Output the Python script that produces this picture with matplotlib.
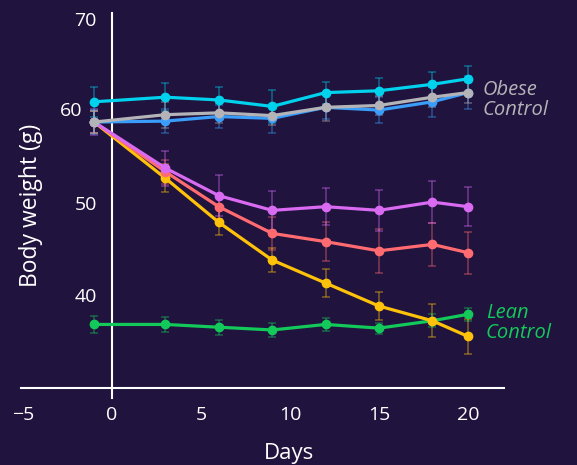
import matplotlib
matplotlib.use("Agg")
import matplotlib.pyplot as plt

days = [-1, 3, 6, 9, 12, 15, 18, 20]

obese_cyan = [61.0, 61.5, 61.2, 60.5, 62.0, 62.2, 62.9, 63.5]
obese_cyan_err = [1.6, 1.5, 1.4, 1.8, 1.2, 1.4, 1.3, 1.4]
obese_blue = [58.8, 58.9, 59.4, 59.2, 60.4, 60.1, 61.0, 62.0]
obese_blue_err = [1.3, 1.3, 1.3, 1.6, 1.3, 1.4, 1.6, 1.8]
obese_gray = [58.8, 59.6, 59.8, 59.5, 60.4, 60.6, 61.5, 62.0]
obese_gray_err = [1.2, 1.4, 1.1, 1.0, 1.5, 1.0, 1.1, 1.1]
magenta = [58.8, 53.8, 50.8, 49.2, 49.6, 49.2, 50.1, 49.6]
magenta_err = [1.4, 1.9, 2.2, 2.1, 2.0, 2.2, 2.3, 2.1]
salmon = [58.8, 53.4, 49.6, 46.7, 45.8, 44.8, 45.5, 44.6]
salmon_err = [1.2, 1.3, 1.3, 1.8, 2.1, 2.4, 2.3, 2.3]
yellow = [58.8, 52.7, 47.9, 43.8, 41.3, 38.8, 37.2, 35.5]
yellow_err = [1.2, 1.5, 1.4, 1.3, 1.5, 1.5, 1.8, 1.9]
lean = [36.8, 36.8, 36.5, 36.2, 36.8, 36.4, 37.2, 37.9]
lean_err = [0.9, 0.8, 0.8, 0.8, 0.7, 0.6, 0.7, 0.7]

xticks = [-5, 0, 5, 10, 15, 20]
yticks = [40, 50, 60, 70]

BG = "#20133d"
FONT = "Open Sans"

fig = plt.figure(figsize=(5.77, 4.65), dpi=100, facecolor=BG)
ax = fig.add_axes([0.0367, 0.144, 0.836, 0.827], facecolor=BG)

series = [
    (lean, lean_err, "#12c95a"),
    (yellow, yellow_err, "#ffc20a"),
    (salmon, salmon_err, "#ff6b70"),
    (magenta, magenta_err, "#d96af2"),
    (obese_cyan, obese_cyan_err, "#00d2ee"),
    (obese_blue, obese_blue_err, "#3a9dfa"),
    (obese_gray, obese_gray_err, "#b4b4b8"),
]
for vals, err, col in series:
    ax.errorbar(days, vals, yerr=err, fmt="none", ecolor=col, alpha=0.45,
                elinewidth=1.1, capsize=3, capthick=1.1, zorder=2)
    ax.plot(days, vals, color=col, lw=2.3, marker="o", ms=6, zorder=3)

ax.set_xlim(-5.1, 22.0)
ax.set_ylim(28.8, 70.6)
ax.spines["top"].set_visible(False)
ax.spines["right"].set_visible(False)
ax.spines["left"].set_position(("data", 0))
ax.spines["bottom"].set_position(("data", 29.9))
ax.spines["bottom"].set_bounds(-5.1, 22.0)
for s in ("left", "bottom"):
    ax.spines[s].set_color("white")
    ax.spines[s].set_linewidth(1.5)
ax.set_xticks(xticks)
ax.set_yticks(yticks)
# the "60" label sits further left in the reference; drawn separately below
ax.set_yticklabels(["" if v == 60 else str(v) for v in yticks])
ax.set_xticklabels([str(v).replace("-", "\u2212") for v in xticks])
ax.tick_params(axis="y", length=0, pad=11, labelsize=14, labelcolor="white")
ax.tick_params(axis="x", length=0, pad=13, labelsize=14, labelcolor="white")
for lab in ax.get_xticklabels() + ax.get_yticklabels():
    lab.set_fontfamily(FONT)
ax.annotate("60", xy=(0, 60), xycoords="data", xytext=(-21.5, 0),
            textcoords="offset points", ha="right", va="center",
            color="white", fontsize=14, family=FONT)

ax.text(20.8, 61.2, "Obese\nControl", color="#b4b4b8", fontsize=14.5, style="italic",
        family=FONT, va="center", ha="left", linespacing=1.0)
ax.text(21.0, 37.0, "Lean\nControl", color="#12c95a", fontsize=14.5, style="italic",
        family=FONT, va="center", ha="left", linespacing=1.0)

fig.text(31 / 577, 1 - 205 / 465, "Body weight (g)", rotation=90, color="white",
         fontsize=16.5, family=FONT, ha="center", va="center")
fig.text(289 / 577, 1 - 459 / 465, "Days", color="white", fontsize=16,
         family=FONT, ha="center", va="baseline")

fig.savefig("out.png", dpi=100, facecolor=BG)
